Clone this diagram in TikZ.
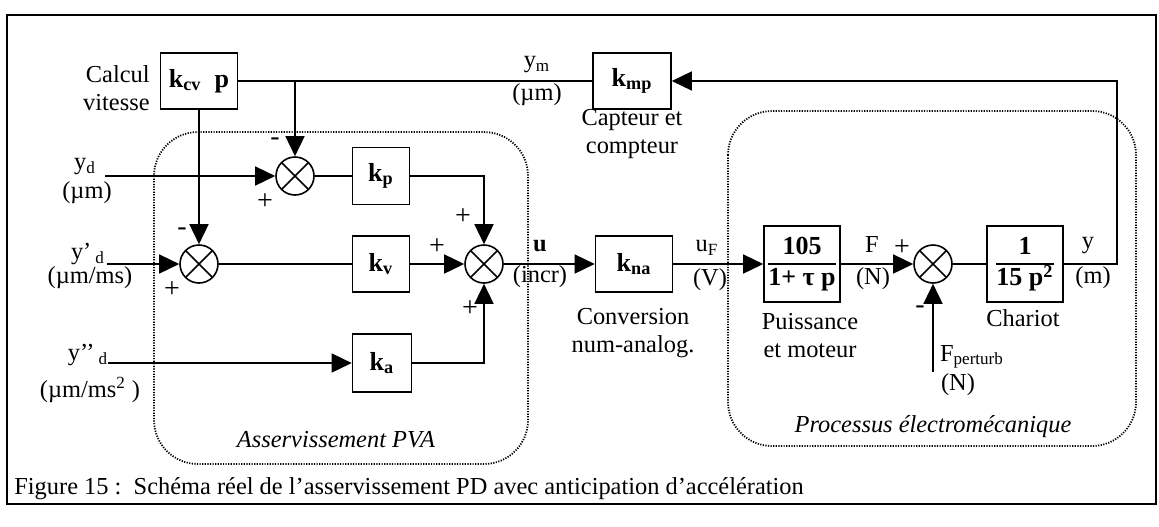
\documentclass[tikz,border=0pt]{standalone}
\usepackage{fontspec}
\setmainfont{Liberation Serif}
\usetikzlibrary{arrows.meta}

\tikzset{
  blk/.style={draw, line width=0.8pt, inner sep=0pt,
    font=\fontsize{13}{15}\selectfont\bfseries},
  sumnode/.style={circle, draw, line width=0.8pt, minimum size=19pt, inner sep=0pt,
    path picture={\draw[line width=0.8pt]
      (path picture bounding box.north west) -- (path picture bounding box.south east)
      (path picture bounding box.north east) -- (path picture bounding box.south west);}},
  sig/.style={line width=0.75pt},
  flow/.style={sig, -{Triangle[length=10pt,width=9.5pt]}},
  lbl/.style={inner sep=0pt, align=center, font=\fontsize{12.2}{14}\selectfont},
  sgn/.style={inner sep=0pt, font=\fontsize{14}{16}\selectfont},
  zone/.style={line width=0.9pt, dash pattern=on 0.6pt off 0.7pt, rounded corners=22pt},
}

\begin{document}
\begin{tikzpicture}[x=0.5pt, y=-0.5pt]
\useasboundingbox (0,0) rectangle (1159,526);
\draw[line width=1pt] (7,15) rectangle (1156,504);

% regions
\draw[zone] (154,132) rectangle (528,464);
\draw[zone] (728,111) rectangle (1136,446);
\node[lbl, font=\fontsize{12.2}{14}\selectfont\itshape] (pva) at (336,440) {Asservissement PVA};
\node[lbl, font=\fontsize{12.2}{14}\selectfont\itshape] (proc) at (933,427) {Processus électromécanique};

% blocks
\node[blk, minimum width=38.5pt, minimum height=28pt] (kcv) at (199,81) {k\textsubscript{cv}\ \ p};
\node[blk, minimum width=28.5pt, minimum height=28.5pt] (kp) at (381,176) {k\textsubscript{p}};
\node[blk, minimum width=28.5pt, minimum height=28pt] (kv) at (381,264) {k\textsubscript{v}};
\node[blk, minimum width=29.5pt, minimum height=29pt] (ka) at (382,363) {k\textsubscript{a}};
\node[blk, minimum width=38.5pt, minimum height=28pt] (kna) at (634,264) {k\textsubscript{na}};
\node[blk, minimum width=39pt, minimum height=28pt] (kmp) at (632,81) {k\textsubscript{mp}};
\node[blk, minimum width=38pt, minimum height=38pt] (puiss) at (802,264)
  {\setlength\arrayrulewidth{0.9pt}\begin{tabular}{@{}c@{}}105\\\hline 1+ τ p\end{tabular}};
\node[blk, minimum width=38pt, minimum height=38pt] (chariot) at (1025,264)
  {\setlength\arrayrulewidth{0.9pt}\begin{tabular}{@{}c@{}}1\\\hline 15 p\textsuperscript{2}\end{tabular}};

% summers
\node[sumnode] (sum1) at (295,176) {};
\node[sumnode] (sum2) at (199,264) {};
\node[sumnode] (sum3) at (484,264) {};
\node[sumnode] (sum4) at (933,264) {};

% free ends
\coordinate (ydin) at (105,176);
\coordinate (yvin) at (107,264);
\coordinate (yain) at (108,363);
\coordinate (fpin) at (933,372);
\coordinate (yret) at (1117,264);
\coordinate (tap) at (kcv.east -| sum1.north);

% connections
\draw[sig] (kmp.west) -- (kcv.east);
\draw[flow] (tap) -- (sum1.north);
\draw[flow] (kcv.south) -- (sum2.north);
\draw[flow] (ydin) -- (sum1.west);
\draw[flow] (yvin) -- (sum2.west);
\draw[flow] (yain) -- (ka.west);
\draw[sig] (sum1) -- (kp);
\draw[sig] (sum2) -- (kv);
\draw[flow] (kp.east) -| (sum3.north);
\draw[flow] (kv) -- (sum3);
\draw[flow] (ka.east) -| (sum3.south);
\draw[flow] (sum3) -- (kna);
\draw[flow] (kna) -- (puiss);
\draw[flow] (puiss) -- (sum4);
\draw[sig] (sum4) -- (chariot);
\draw[flow] (fpin) -- (sum4.south);
\draw[flow] (chariot.east) -- (yret) |- (kmp.east);

% signs
\node[sgn] (s1m) at (275,142) {-};
\node[sgn] (s1p) at (265,202) {+};
\node[sgn] (s2m) at (182,232) {-};
\node[sgn] (s2p) at (172,290) {+};
\node[sgn] (s3a) at (463,217) {+};
\node[sgn] (s3b) at (437,247) {+};
\node[sgn] (s3c) at (470,309) {+};
\node[sgn] (s4p) at (902,248) {+};
\node[sgn] (s4m) at (920,310) {-};

% signal labels
\node[lbl, align=right, anchor=east] (calc) at (150,88) {Calcul\\vitesse};
\node[lbl] (yd) at (85,167) {y\textsubscript{d}};
\node[lbl] (ydu) at (87,193) {(µm)};
\node[lbl] (yv) at (88,254) {y’\,\textsubscript{d}};
\node[lbl] (yvu) at (90,278) {(µm/ms)};
\node[lbl] (ya) at (88,355) {y’’\,\textsubscript{d}};
\node[lbl] (yau) at (90,390) {(µm/ms\textsuperscript{2} )};
\node[lbl] (ym) at (537,65) {y\textsubscript{m}};
\node[lbl] (ymu) at (537,95) {(µm)};
\node[lbl] (capt) at (632,134) {Capteur et\\compteur};
\node[lbl, font=\fontsize{12.2}{14}\selectfont\bfseries] (u) at (540,246) {u};
\node[lbl] (uu) at (540,277) {(incr)};
\node[lbl] (conv) at (633,333) {Conversion\\num-analog.};
\node[lbl] (uf) at (707,248) {u\textsubscript{F}};
\node[lbl] (ufu) at (710,280) {(V)};
\node[lbl] (puisl) at (810,336) {Puissance\\et moteur};
\node[lbl] (force) at (872,245) {F};
\node[lbl] (forceu) at (873,279) {(N)};
\node[lbl] (fp) at (972,357) {F\textsubscript{perturb}};
\node[lbl] (fpu) at (958,385) {(N)};
\node[lbl] (charl) at (1023,318) {Chariot};
\node[lbl] (y) at (1088,246) {y};
\node[lbl] (yu) at (1093,278) {(m)};

% caption
\node[lbl, anchor=west] (fig) at (14,489)
  {Figure 15 :\ \ Schéma réel de l’asservissement PD avec anticipation d’accélération};
\end{tikzpicture}
\end{document}
